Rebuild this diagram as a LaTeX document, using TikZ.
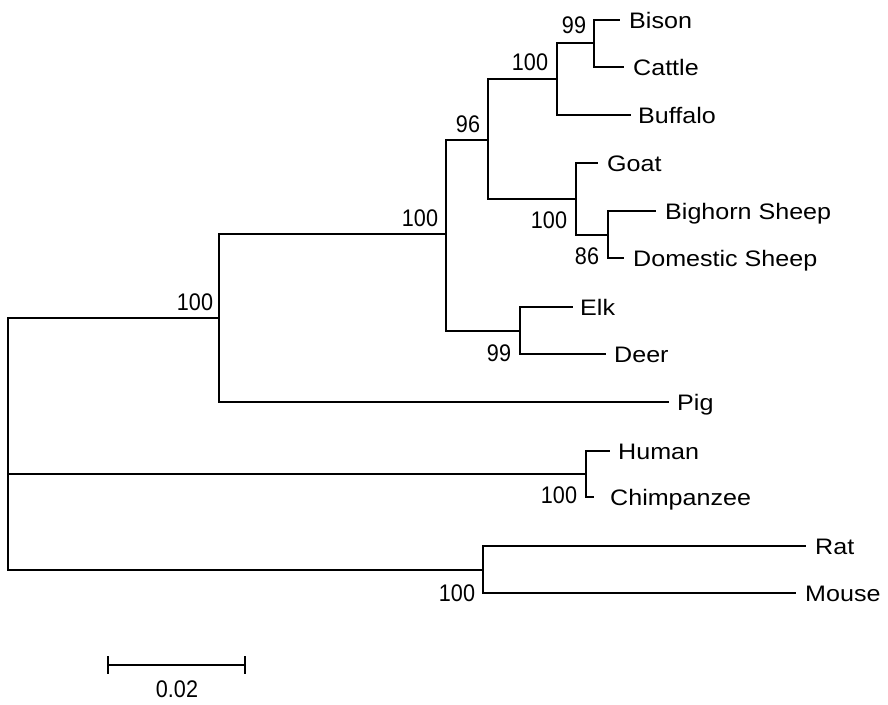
\documentclass[tikz,border=0pt]{standalone}
\usepackage{fontspec}
\newfontfamily\taxfont[FakeStretch=1.12]{Liberation Sans}
\newfontfamily\bsfont[FakeStretch=0.9]{Liberation Sans}
\begin{document}
\begin{tikzpicture}[x=1pt,y=-1pt,
  br/.style={line width=1.8pt,line cap=rect},
  taxon/.style={anchor=base west,inner sep=0pt,font=\taxfont\fontsize{22.4}{26}\selectfont},
  boot/.style={anchor=center,inner sep=0pt,font=\bsfont\fontsize{24}{28}\selectfont}]
\useasboundingbox (0,0) rectangle (888,704);
% internal nodes (vertical bar ends and joins)
\coordinate (Rt) at (8,318); \coordinate (Rm) at (8,474); \coordinate (Rb) at (8,570);
\coordinate (At) at (219,234); \coordinate (Aj) at (219,318); \coordinate (Ab) at (219,402);
\coordinate (Bt) at (446,140); \coordinate (Bj) at (446,234); \coordinate (Bb) at (446,331);
\coordinate (Ct) at (488,79);  \coordinate (Cj) at (488,140); \coordinate (Cb) at (488,199);
\coordinate (Dt) at (557,43);  \coordinate (Dj) at (557,79);  \coordinate (Db) at (557,115);
\coordinate (Et) at (594,20);  \coordinate (Ej) at (594,43);  \coordinate (Eb) at (594,67);
\coordinate (Ft) at (576,163); \coordinate (Fj) at (576,199); \coordinate (Fb) at (576,235);
\coordinate (Gt) at (608,211); \coordinate (Gj) at (608,235); \coordinate (Gb) at (608,258);
\coordinate (Ht) at (520,307); \coordinate (Hj) at (520,331); \coordinate (Hb) at (520,354);
\coordinate (It) at (586,451); \coordinate (Ij) at (586,474); \coordinate (Ib) at (586,497);
\coordinate (Jt) at (483,546); \coordinate (Jj) at (483,570); \coordinate (Jb) at (483,593);
% tips
\coordinate (tBison) at (619,20);
\coordinate (tCattle) at (623,67);
\coordinate (tBuffalo) at (630,115);
\coordinate (tGoat) at (597,163);
\coordinate (tBighorn) at (655,211);
\coordinate (tDomestic) at (623,258);
\coordinate (tElk) at (572,307);
\coordinate (tDeer) at (605,354);
\coordinate (tPig) at (668,402);
\coordinate (tHuman) at (609,451);
\coordinate (tChimp) at (593,497);
\coordinate (tRat) at (805,546);
\coordinate (tMouse) at (795,593);
% branches
\draw[br] (Rt) -- (Rb);
\draw[br] (Rt) -- (Aj); \draw[br] (Rm) -- (Ij); \draw[br] (Rb) -- (Jj);
\draw[br] (At) -- (Ab); \draw[br] (At) -- (Bj); \draw[br] (Ab) -- (tPig);
\draw[br] (Bt) -- (Bb); \draw[br] (Bt) -- (Cj); \draw[br] (Bb) -- (Hj);
\draw[br] (Ct) -- (Cb); \draw[br] (Ct) -- (Dj); \draw[br] (Cb) -- (Fj);
\draw[br] (Dt) -- (Db); \draw[br] (Dt) -- (Ej); \draw[br] (Db) -- (tBuffalo);
\draw[br] (Et) -- (Eb); \draw[br] (Et) -- (tBison); \draw[br] (Eb) -- (tCattle);
\draw[br] (Ft) -- (Fb); \draw[br] (Ft) -- (tGoat); \draw[br] (Fb) -- (Gj);
\draw[br] (Gt) -- (Gb); \draw[br] (Gt) -- (tBighorn); \draw[br] (Gb) -- (tDomestic);
\draw[br] (Ht) -- (Hb); \draw[br] (Ht) -- (tElk); \draw[br] (Hb) -- (tDeer);
\draw[br] (It) -- (Ib); \draw[br] (It) -- (tHuman); \draw[br] (Ib) -- (tChimp);
\draw[br] (Jt) -- (Jb); \draw[br] (Jt) -- (tRat); \draw[br] (Jb) -- (tMouse);
% taxon labels
\node[taxon] (nBison) at ([xshift=10pt,yshift=-8pt]tBison) {Bison};
\node[taxon] (nCattle) at ([xshift=10pt,yshift=-8pt]tCattle) {Cattle};
\node[taxon] (nBuffalo) at ([xshift=8pt,yshift=-8pt]tBuffalo) {Buffalo};
\node[taxon] (nGoat) at ([xshift=10pt,yshift=-8pt]tGoat) {Goat};
\node[taxon] (nBighorn) at ([xshift=10pt,yshift=-8pt]tBighorn) {Bighorn Sheep};
\node[taxon] (nDomestic) at ([xshift=10pt,yshift=-8pt]tDomestic) {Domestic Sheep};
\node[taxon] (nElk) at ([xshift=8pt,yshift=-8pt]tElk) {Elk};
\node[taxon] (nDeer) at ([xshift=9pt,yshift=-8pt]tDeer) {Deer};
\node[taxon] (nPig) at ([xshift=9pt,yshift=-8pt]tPig) {Pig};
\node[taxon] (nHuman) at ([xshift=9pt,yshift=-8pt]tHuman) {Human};
\node[taxon] (nChimp) at ([xshift=17pt,yshift=-8pt]tChimp) {Chimpanzee};
\node[taxon] (nRat) at ([xshift=10pt,yshift=-8pt]tRat) {Rat};
\node[taxon] (nMouse) at ([xshift=10pt,yshift=-8pt]tMouse) {Mouse};
% bootstrap values
\node[boot] (bA) at (195,302) {100};
\node[boot] (bB) at (420,218) {100};
\node[boot] (bC) at (468,124) {96};
\node[boot] (bD) at (530,62) {100};
\node[boot] (bE) at (574,25) {99};
\node[boot] (bF) at (549,220) {100};
\node[boot] (bG) at (587,256) {86};
\node[boot] (bH) at (499,353) {99};
\node[boot] (bI) at (559,495) {100};
\node[boot] (bJ) at (457,593) {100};
% scale bar
\coordinate (sL) at (108,665); \coordinate (sR) at (245,665);
\draw[br] (sL) -- (sR);
\draw[br] ([yshift=8pt]sL) -- ([yshift=-8pt]sL);
\draw[br] ([yshift=8pt]sR) -- ([yshift=-8pt]sR);
\node[boot] (scale) at (177,689) {0.02};
\end{tikzpicture}
\end{document}
